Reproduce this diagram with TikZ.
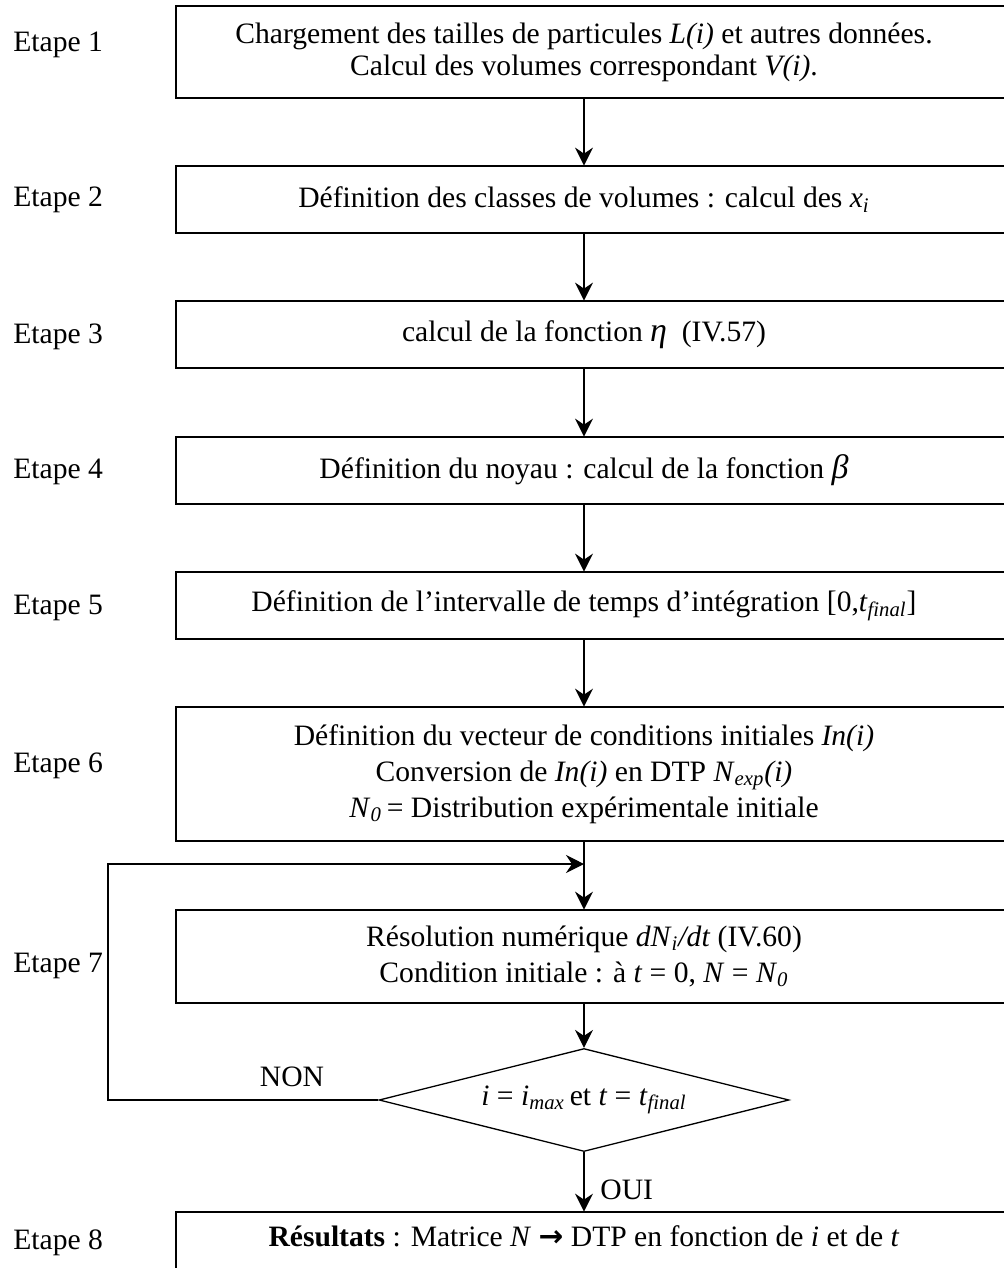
\documentclass[tikz,border=0pt]{standalone}
\usepackage{fontspec}
\setmainfont{Liberation Serif}
\newfontfamily\arrfont{DejaVu Sans}
\usetikzlibrary{arrows.meta,shapes.geometric}
\newcommand{\mysub}[1]{\textsubscript{\textit{#1}}}
\begin{document}
\begin{tikzpicture}[x=0.5pt,y=-0.5pt,
  every node/.style={font=\fontsize{14.8}{16}\selectfont, inner sep=0pt},
  boxnode/.style={minimum width=408pt, align=center},
  boxline/.style={line width=1pt},
  arr/.style={line width=0.65pt, -{Stealth[length=9pt,width=9pt,inset=3pt]}},
  lab/.style={anchor=west},
  dec/.style={diamond, draw, line width=0.65pt, aspect=4.1, minimum width=205pt, minimum height=51.5pt}
]
\useasboundingbox (0,0) rectangle (1004,1268);
\clip (0,0) rectangle (1004,1268);

% boxes
\node[boxnode, minimum height=46pt] (b1) at (584,52) {Chargement des tailles de particules \textit{L(i)} et autres données.\\Calcul des volumes correspondant \textit{V(i)}.};
\node[boxnode, minimum height=33.5pt] (b2) at (584,199.5) {Définition des classes de volumes : calcul des \textit{x}\mysub{i}};
\node[boxnode, minimum height=33.5pt] (b3) at (584,334.5) {calcul de la fonction {\fontsize{17}{17}\selectfont\textit{η}}\ \ (IV.57)};
\node[boxnode, minimum height=33.5pt] (b4) at (584,470.5) {Définition du noyau : calcul de la fonction {\fontsize{17}{17}\selectfont\textit{β}}};
\node[boxnode, minimum height=33.5pt] (b5) at (584,605.5) {Définition de l’intervalle de temps d’intégration [0,\textit{t}\mysub{final}]};
\node[boxnode, minimum height=67pt] (b6) at (584,774) {Définition du vecteur de conditions initiales \textit{In(i)}\\[0.3ex]Conversion de \textit{In(i)} en DTP \textit{N}\mysub{exp}\textit{(i)}\\[0.3ex]\textit{N}\mysub{0}\,= Distribution expérimentale initiale};
\node[boxnode, minimum height=46.5pt] (b7) at (584,956.5) {Résolution numérique \textit{dN}\mysub{i}\textit{/dt} (IV.60)\\[0.3ex]Condition initiale : à \textit{t} = 0, \textit{N} = \textit{N}\mysub{0}};
\node[dec] (d) at (584,1100) {\textit{i} = \textit{i}\mysub{max}\,et \textit{t} = \textit{t}\mysub{final}};
\node[boxnode, minimum height=24pt] (b8) at (584,1236) {\textbf{Résultats} : Matrice \textit{N} {\arrfont\bfseries →} DTP en fonction de \textit{i} et de \textit{t}};

\foreach \b in {b1,b2,b3,b4,b5,b6,b7}
  \draw[boxline] ([xshift=20pt]\b.north east) -- (\b.north west) -- (\b.south west) -- ([xshift=20pt]\b.south east);
\draw[boxline] ([xshift=20pt]b8.north east) -- (b8.north west) -- ([yshift=-30pt]b8.south west);

% labels
\node[lab] (e1) at (13,45) {Etape 1};
\node[lab] (e2) at (13,200) {Etape 2};
\node[lab] (e3) at (13,337) {Etape 3};
\node[lab] (e4) at (13,472) {Etape 4};
\node[lab] (e5) at (13,608) {Etape 5};
\node[lab] (e6) at (13,766) {Etape 6};
\node[lab] (e7) at (13,966) {Etape 7};
\node[lab] (e8) at (13,1243) {Etape 8};

% connectors
\draw[arr] (b1.south) -- (b2.north);
\draw[arr] (b2.south) -- (b3.north);
\draw[arr] (b3.south) -- (b4.north);
\draw[arr] (b4.south) -- (b5.north);
\draw[arr] (b5.south) -- (b6.north);
\draw[arr] (b6.south) -- (b7.north);
\draw[arr] (b7.south) -- (d.north);
\draw[arr] (d.south) -- (b8.north);
\node[anchor=west] (oui) at (600,1190) {OUI};

\coordinate (j) at (584,864);
\coordinate (lc) at (108,864);
\draw[arr] (d.west) -| (lc) -- (j);
\node (non) at (292,1077) {NON};
\end{tikzpicture}
\end{document}
